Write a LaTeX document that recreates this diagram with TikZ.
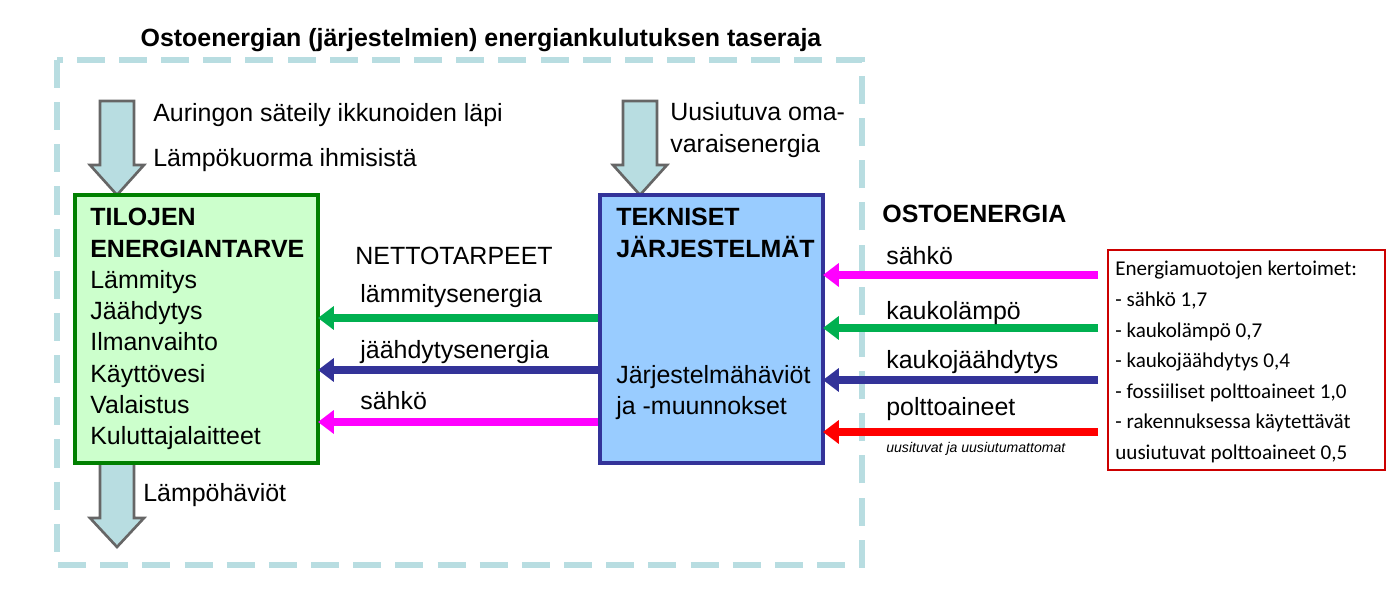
\documentclass[tikz,border=0pt]{standalone}
\usepackage{fontspec}
\setmainfont{Liberation Sans}
\newfontfamily\boxfont{Carlito}
\usetikzlibrary{arrows.meta,positioning}
\definecolor{paleteal}{RGB}{184,221,225}
\definecolor{boxgreen}{RGB}{204,255,204}
\definecolor{darkgreen}{RGB}{0,128,0}
\definecolor{boxblue}{RGB}{153,204,255}
\definecolor{navy}{RGB}{51,51,153}
\definecolor{pinkline}{RGB}{255,0,255}
\definecolor{greenline}{RGB}{0,176,80}
% down block arrow: x, top y, head start y, tip y
\newcommand{\blockdown}[4]{%
  \draw[draw=gray!80!black,fill=paleteal,line width=1.5pt,line join=miter]
    (#1-17,#2) -- (#1+17,#2) -- (#1+17,#3) -- (#1+27,#3) -- (#1,#4)
    -- (#1-27,#3) -- (#1-17,#3) -- cycle;}

\begin{document}
\begin{tikzpicture}[x=0.02cm,y=-0.02cm,
    every node/.style={font=\fontsize{14.2}{17.8}\selectfont,text=black},
    flow/.style={line width=5pt,-{Triangle[length=9pt,width=13pt]}},
    lbl/.style={anchor=west,inner sep=0pt}
  ]
  \useasboundingbox (0,0) rectangle (1400,597);

  % boundary
  \draw[paleteal,line width=3.5pt,dash pattern=on 16pt off 8pt] (57,60) rectangle (862,565);
  \node[font=\bfseries\fontsize{14.2}{17}\selectfont] (title) at (481,40) {Ostoenergian (järjestelmien) energiankulutuksen taseraja};

  % block arrows
  \blockdown{117}{101}{165}{195}
  \blockdown{640}{101}{165}{195}
  \blockdown{117}{463}{518}{547}

  % boxes
  \draw[darkgreen,fill=boxgreen,line width=2.2pt] (75,195) rectangle (318,463);
  \node[lbl,anchor=north west,align=left] (demand) at (90,208)
    {\textbf{TILOJEN}\\\textbf{ENERGIANTARVE}\\Lämmitys\\Jäähdytys\\Ilmanvaihto\\Käyttövesi\\Valaistus\\Kuluttajalaitteet};
  \draw[navy,fill=boxblue,line width=2.2pt] (600,195) rectangle (823,463);
  \node[lbl,anchor=north west,align=left] (tech) at (616,208) {\textbf{TEKNISET}\\\textbf{JÄRJESTELMÄT}};
  \node[lbl,anchor=north west,align=left] (losses) at (616,365) {Järjestelmähäviöt\\ja -muunnokset};

  \draw[red!80!black,line width=0.9pt] (1108,250) rectangle (1385,470);
  \node[lbl,anchor=north west,align=left,font=\boxfont\fontsize{12}{17.4}\selectfont] (coef) at (1115,261)
    {Energiamuotojen kertoimet:\\- sähkö 1,7\\- kaukolämpö 0,7\\- kaukojäähdytys 0,4\\- fossiiliset polttoaineet 1,0\\- rakennuksessa käytettävät\\uusiutuvat polttoaineet 0,5};

  \node[lbl] (sunl) at (153,115) {Auringon säteily ikkunoiden läpi};
  \node[lbl] (peoplel) at (153,160) {Lämpökuorma ihmisistä};
  \node[lbl,align=left] (ownl) at (670,130) {Uusiutuva oma-\\varaisenergia};
  \node[lbl] (lossl) at (143,495) {Lämpöhäviöt};

  % internal flows
  \node[lbl] (net) at (355,256) {NETTOTARPEET};
  \coordinate (a1) at (598,318); \coordinate (b1) at (318,318);
  \coordinate (a2) at (598,370); \coordinate (b2) at (318,370);
  \coordinate (a3) at (598,422); \coordinate (b3) at (318,422);
  \draw[flow,greenline] (a1) -- (b1);
  \draw[flow,navy] (a2) -- (b2);
  \draw[flow,pinkline] (a3) -- (b3);
  \node[lbl] (heatl) at (360,296) {lämmitysenergia};
  \node[lbl] (coolL) at (360,352) {jäähdytysenergia};
  \node[lbl] (elecl) at (360,401) {sähkö};

  % purchased energy
  \node[lbl,font=\bfseries\fontsize{14.2}{17}\selectfont] (buy) at (882,214) {OSTOENERGIA};
  \coordinate (c1) at (1098,275); \coordinate (d1) at (823,275);
  \coordinate (c2) at (1098,328); \coordinate (d2) at (823,328);
  \coordinate (c3) at (1098,380); \coordinate (d3) at (823,380);
  \coordinate (c4) at (1098,432); \coordinate (d4) at (823,432);
  \draw[flow,pinkline] (c1) -- (d1);
  \draw[flow,greenline] (c2) -- (d2);
  \draw[flow,navy] (c3) -- (d3);
  \draw[flow,red] (c4) -- (d4);
  \node[lbl] (el) at (886,256) {sähkö};
  \node[lbl] (dh) at (886,313) {kaukolämpö};
  \node[lbl] (dc) at (886,362) {kaukojäähdytys};
  \node[lbl] (fuel) at (886,409) {polttoaineet};
  \node[lbl,font=\itshape\fontsize{8}{9}\selectfont] (fuelsub) at (886,449) {uusituvat ja uusiutumattomat};
\end{tikzpicture}
\end{document}
